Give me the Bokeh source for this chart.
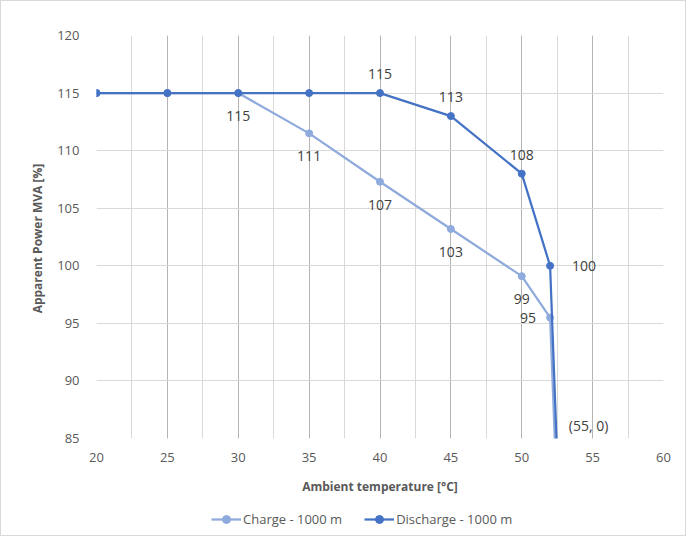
from bokeh.plotting import figure
from bokeh.layouts import column
from bokeh.models import Range1d, SingleIntervalTicker, Legend, LegendItem
from bokeh.core.properties import value
from bokeh.embed import file_html
from bokeh.resources import INLINE

# ---- data ----
charge_x = [20, 25, 30, 35, 40, 45, 50, 52, 55]
charge_y = [115, 115, 115, 111.5, 107.3, 103.2, 99.1, 95.5, 0]
discharge_x = [20, 25, 30, 35, 40, 45, 50, 52, 55]
discharge_y = [115, 115, 115, 115, 115, 113, 108, 100, 0]

charge_lbl_x = [30, 35, 40, 45, 50]
charge_lbl_y = [115, 111.5, 107.3, 103.2, 99.1]
charge_lbl = ["115", "111", "107", "103", "99"]
charge_left_x = [52]
charge_left_y = [95.5]
charge_left = ["95"]

dis_lbl_x = [40, 45, 50]
dis_lbl_y = [115, 113, 108]
dis_lbl = ["115", "113", "108"]
dis_right_x = [52]
dis_right_y = [100]
dis_right = ["100"]
end_x = [55]
end_lbl = ["(55, 0)"]

x_title = "Ambient temperature [°C]"
y_title = "Apparent  Power MVA [%]"
series_names = ["Charge - 1000 m", "Discharge - 1000 m"]

C_CHARGE = "#8FAADC"
C_DIS = "#4472C4"
FONT = "Open Sans"
GREY = "#595959"

p = figure(width=684, height=504, output_backend="svg", toolbar_location=None,
           x_range=Range1d(20, 60), y_range=Range1d(85, 120),
           min_border_left=95, min_border_right=22, min_border_top=34, min_border_bottom=67)
p.outline_line_color = None
p.background_fill_color = "white"
p.border_fill_color = "white"

xt = SingleIntervalTicker(interval=5, num_minor_ticks=2)
p.xaxis.ticker = xt
p.yaxis.ticker = SingleIntervalTicker(interval=5, num_minor_ticks=0)
p.xgrid.ticker = xt
p.xgrid.grid_line_color = "#b4b4b4"
p.xgrid.minor_grid_line_color = "#d9d9d9"
p.ygrid.grid_line_color = "#d9d9d9"

for ax in (p.xaxis[0], p.yaxis[0]):
    ax.axis_line_color = None
    ax.major_tick_line_color = None
    ax.minor_tick_line_color = None
    ax.major_label_text_font = FONT
    ax.major_label_text_font_size = "13px"
    ax.major_label_text_color = GREY
    ax.axis_label_text_font = FONT
    ax.axis_label_text_font_size = "12px"
    ax.axis_label_text_font_style = "bold"
    ax.axis_label_text_color = GREY

p.xaxis.axis_label = x_title
p.yaxis.axis_label = y_title
p.xaxis.major_label_standoff = 8
p.xaxis.axis_label_standoff = 13
p.yaxis.major_label_standoff = 11
p.yaxis.axis_label_standoff = 8

line_kw = dict(line_width=2.25)
p.line(charge_x, charge_y, line_color=C_CHARGE, **line_kw)
p.scatter(charge_x, charge_y, marker="circle", size=7, fill_color=C_CHARGE, line_color=C_CHARGE)
p.line(discharge_x, discharge_y, line_color=C_DIS, **line_kw)
p.scatter(discharge_x, discharge_y, marker="circle", size=7, fill_color=C_DIS, line_color=C_DIS)

lab_kw = dict(text_font=value(FONT), text_font_size="14px", text_color="#404040",
              text_align="center", text_baseline="middle")
p.text(charge_lbl_x, charge_lbl_y, text=charge_lbl, y_offset=23, **lab_kw)
p.text(charge_left_x, charge_left_y, text=charge_left, x_offset=-22, **lab_kw)
p.text(dis_lbl_x, dis_lbl_y, text=dis_lbl, y_offset=-19, **lab_kw)
p.text(dis_right_x, dis_right_y, text=dis_right, x_offset=34, **lab_kw)
p.text(end_x, [p.y_range.start], text=end_lbl, x_offset=-4, y_offset=-13, **lab_kw)

# ---- legend strip: same series drawn out of view, only the legend shows ----
lg = figure(width=684, height=30, output_backend="svg", toolbar_location=None,
            x_range=Range1d(0, 1), y_range=Range1d(0, 1),
            x_axis_location=None, y_axis_location=None,
            min_border_left=0, min_border_right=0, min_border_top=0, min_border_bottom=0)
lg.outline_line_color = None
lg.xgrid.visible = False
lg.ygrid.visible = False
r1 = lg.line(charge_x, charge_y, line_color=C_CHARGE, **line_kw)
r2 = lg.scatter(charge_x, charge_y, marker="circle", size=7, fill_color=C_CHARGE, line_color=C_CHARGE)
r3 = lg.line(discharge_x, discharge_y, line_color=C_DIS, **line_kw)
r4 = lg.scatter(discharge_x, discharge_y, marker="circle", size=7, fill_color=C_DIS, line_color=C_DIS)
legend = Legend(items=[LegendItem(label=series_names[0], renderers=[r1, r2]),
                       LegendItem(label=series_names[1], renderers=[r3, r4])],
                location=(115, 6), orientation="horizontal",
                label_text_font=FONT, label_text_font_size="13px", label_text_color=GREY,
                glyph_width=30, spacing=22, padding=2, border_line_color=None,
                background_fill_alpha=0, label_standoff=2)
lg.add_layout(legend, "center")

layout = column(p, lg, spacing=0)
layout.styles = {"border": "1px solid #d9d9d9"}

open("out.html", "w").write(file_html(layout, INLINE))
